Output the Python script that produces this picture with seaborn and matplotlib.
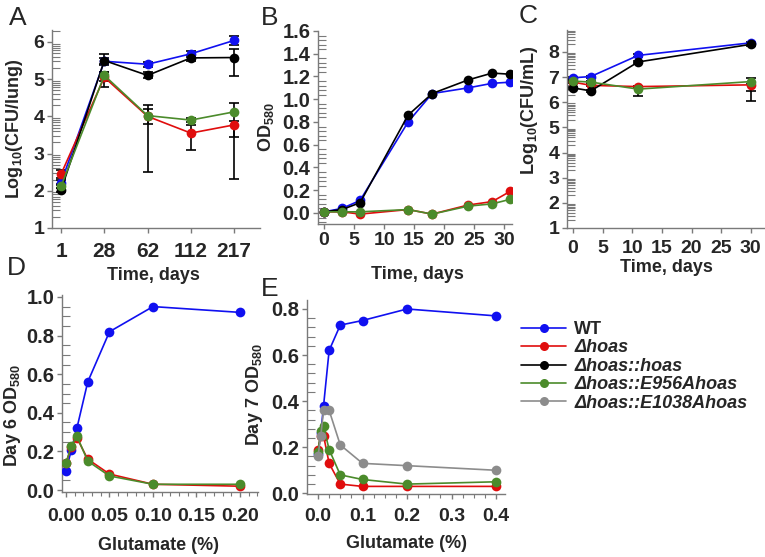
import numpy as np
import pandas as pd
import seaborn as sns
import matplotlib
matplotlib.use("Agg")
from matplotlib import pyplot as plt
from matplotlib.lines import Line2D
from matplotlib.ticker import FixedLocator, MultipleLocator, FormatStrFormatter

strains = ["WT", "hoas", "hoas::hoas", "E956A", "E1038A"]
labels = ["WT", "\u0394hoas", "\u0394hoas::hoas", "\u0394hoas::E956Ahoas", "\u0394hoas::E1038Ahoas"]
colors = {"WT": "#1010f0", "hoas": "#e00d0d", "hoas::hoas": "#000000",
          "E956A": "#4b8b2b", "E1038A": "#8c8c8c"}

# panel A: lung CFU
a_days = ["1", "28", "62", "112", "217"]
a_vals = {
    "WT":         [2.22, 5.48, 5.40, 5.68, 6.04],
    "hoas":       [2.45, 5.05, 4.00, 3.55, 3.77],
    "hoas::hoas": [2.02, 5.50, 5.10, 5.57, 5.58],
    "E956A":      [2.12, 5.10, 4.02, 3.90, 4.12],
}
a_err_lo = {
    "WT":         [0.06, 0.10, 0.07, 0.08, 0.12],
    "hoas":       [0.10, 0.25, 1.49, 0.45, 1.46],
    "hoas::hoas": [0.05, 0.10, 0.08, 0.07, 0.50],
    "E956A":      [0.05, 0.15, 0.23, 0.05, 0.68],
}
a_err_hi = {
    "WT":         [0.06, 0.10, 0.07, 0.08, 0.12],
    "hoas":       [0.12, 0.15, 0.31, 0.22, 0.10],
    "hoas::hoas": [0.05, 0.17, 0.08, 0.07, 0.24],
    "E956A":      [0.05, 0.10, 0.17, 0.05, 0.25],
}

# panel B: OD580 growth
b_days = [0, 3, 6, 14, 18, 24, 28, 31]
b_vals = {
    "WT":         [0.01, 0.04, 0.11, 0.80, 1.05, 1.10, 1.14, 1.15],
    "hoas":       [0.01, 0.01, -0.01, 0.03, -0.01, 0.07, 0.10, 0.19],
    "hoas::hoas": [0.01, 0.03, 0.09, 0.86, 1.05, 1.17, 1.23, 1.22],
    "E956A":      [0.01, 0.01, 0.01, 0.03, -0.01, 0.06, 0.08, 0.12],
}

# panel C: culture CFU
c_days = [0, 3, 11, 30]
c_vals = {
    "WT":         [6.97, 7.02, 7.86, 8.36],
    "hoas":       [6.80, 6.67, 6.62, 6.69],
    "hoas::hoas": [6.57, 6.45, 7.60, 8.30],
    "E956A":      [6.84, 6.80, 6.52, 6.82],
}
c_err_lo = {
    "WT":         [0.04, 0.04, 0.06, 0.05],
    "hoas":       [0.04, 0.04, 0.04, 0.63],
    "hoas::hoas": [0.04, 0.04, 0.05, 0.05],
    "E956A":      [0.04, 0.04, 0.27, 0.36],
}
c_err_hi = {
    "WT":         [0.04, 0.04, 0.06, 0.05],
    "hoas":       [0.04, 0.04, 0.04, 0.05],
    "hoas::hoas": [0.04, 0.04, 0.05, 0.05],
    "E956A":      [0.04, 0.04, 0.05, 0.15],
}

# panel D: day 6 OD vs glutamate
d_glu = [0, 0.00625, 0.0125, 0.025, 0.05, 0.1, 0.2]
d_vals = {
    "WT":    [0.10, 0.21, 0.32, 0.56, 0.82, 0.95, 0.92],
    "hoas":  [0.14, 0.225, 0.27, 0.16, 0.083, 0.03, 0.02],
    "E956A": [0.14, 0.23, 0.28, 0.15, 0.073, 0.03, 0.03],
}

# panel E: day 7 OD vs glutamate
e_glu = [0, 0.00625, 0.0125, 0.025, 0.05, 0.1, 0.2, 0.4]
e_vals = {
    "WT":     [0.17, 0.26, 0.38, 0.62, 0.73, 0.75, 0.80, 0.77],
    "hoas":   [0.19, 0.25, 0.25, 0.13, 0.04, 0.03, 0.03, 0.03],
    "E956A":  [0.18, 0.27, 0.29, 0.19, 0.08, 0.06, 0.04, 0.05],
    "E1038A": [0.16, 0.25, 0.36, 0.36, 0.21, 0.13, 0.12, 0.10],
}


def long_df(x, vals):
    rows = []
    for s in strains:
        if s in vals:
            for xi, yi in zip(x, vals[s]):
                rows.append({"x": xi, "y": yi, "strain": s})
    return pd.DataFrame(rows)


def draw(ax, x, vals, err_lo=None, err_hi=None):
    df = long_df(x, vals)
    order = [s for s in strains if s in vals]
    if err_lo is not None:
        for s in order:
            ax.errorbar(x, vals[s], yerr=[err_lo[s], err_hi[s]], fmt="none",
                        ecolor="black", elinewidth=1.2, capsize=3.5, capthick=1.2, zorder=1)
    sns.lineplot(data=df, x="x", y="y", hue="strain", hue_order=order, palette=colors,
                 marker="o", markersize=7, markeredgewidth=0, linewidth=1.2,
                 estimator=None, legend=False, ax=ax, zorder=3)


def style(ax, xlabel, ylabel, xlab_pos, ylab_pos, xsize, ysize, xpad):
    ax.set_xlabel(xlabel, fontsize=13, weight="bold")
    ax.set_ylabel(ylabel, fontsize=13, weight="bold")
    ax.xaxis.label.set_va("center")
    ax.yaxis.label.set_va("center")
    ax.xaxis.set_label_coords(*xlab_pos)
    ax.yaxis.set_label_coords(*ylab_pos)
    for sp in ["top", "right"]:
        ax.spines[sp].set_visible(False)
    for sp in ["left", "bottom"]:
        ax.spines[sp].set_color("#7a7a7a")
        ax.spines[sp].set_linewidth(1.0)
    ax.tick_params(which="major", direction="out", length=3.5, width=1.0, color="#7a7a7a")
    ax.tick_params(axis="x", which="major", labelsize=xsize, pad=xpad)
    ax.tick_params(axis="y", which="major", labelsize=ysize, pad=2)
    ax.tick_params(axis="y", which="minor", direction="in", length=6, width=0.8,
                   color="#7a7a7a")
    ax.tick_params(axis="x", which="minor", direction="out", length=3, width=0.8,
                   color="#7a7a7a")
    for t in ax.get_xticklabels() + ax.get_yticklabels():
        t.set_fontweight("bold")


def log_minor(lo, hi):
    return [n + np.log10(k) for n in range(lo, hi) for k in range(2, 10)]


sns.set_style("ticks")
plt.rcParams["font.family"] = ["Liberation Sans", "DejaVu Sans"]
plt.rcParams["font.weight"] = "bold"
plt.rcParams["mathtext.fontset"] = "custom"
plt.rcParams["mathtext.rm"] = "Liberation Sans:bold"
plt.rcParams["mathtext.bf"] = "Liberation Sans:bold"
plt.rcParams["mathtext.default"] = "bf"

W, H = 765, 557
fig = plt.figure(figsize=(W / 100, H / 100), dpi=100)


def add_axes(left, right, top, bottom):
    return fig.add_axes([left / W, 1 - bottom / H, (right - left) / W, (bottom - top) / H])


# A
axA = add_axes(52, 260, 30, 228)
draw(axA, np.arange(len(a_days)), a_vals, a_err_lo, a_err_hi)
axA.set_xticks(np.arange(len(a_days)))
axA.set_xticklabels(a_days)
axA.set_xlim(-0.21, 4.6)
axA.set_ylim(1, 6.32)
axA.set_yticks(range(1, 7))
axA.yaxis.set_minor_locator(FixedLocator(log_minor(1, 7)))
style(axA, "Time, days", r"Log$_{10}$(CFU/lung)", (0.486, -0.24), (-0.18, 0.5), 15, 14, 6.5)

# B
axB = add_axes(318, 512, 31, 224)
draw(axB, b_days, b_vals)
axB.set_xlim(-1, 31.3)
axB.set_ylim(-0.097, 1.6)
axB.set_xticks(range(0, 31, 5))
axB.set_yticks(np.arange(0, 1.61, 0.2))
axB.yaxis.set_major_formatter(FormatStrFormatter("%.1f"))
axB.yaxis.set_minor_locator(MultipleLocator(0.04))
style(axB, "Time, days", r"OD$_{580}$", (0.515, -0.26), (-0.27, 0.5), 14, 14.5, 2)

# C
axC = add_axes(567, 765, 30, 228)
draw(axC, c_days, c_vals, c_err_lo, c_err_hi)
axC.set_xlim(-1.01, 32.4)
axC.set_ylim(1, 8.87)
axC.set_xticks(range(0, 31, 5))
axC.set_yticks(range(1, 9))
axC.yaxis.set_minor_locator(FixedLocator(log_minor(1, 9)))
style(axC, "Time, days", r"Log$_{10}$(CFU/mL)", (0.5, -0.2), (-0.187, 0.596), 14, 14, 4.8)

# D
axD = add_axes(62, 258, 295, 492)
draw(axD, d_glu, d_vals)
axD.set_xlim(-0.0046, 0.2207)
axD.set_ylim(-0.01, 1.01)
axD.set_xticks(np.arange(0, 0.201, 0.05))
axD.xaxis.set_major_formatter(FormatStrFormatter("%.2f"))
axD.xaxis.set_minor_locator(MultipleLocator(0.01))
axD.set_yticks(np.arange(0, 1.01, 0.2))
axD.yaxis.set_major_formatter(FormatStrFormatter("%.1f"))
axD.yaxis.set_minor_locator(MultipleLocator(0.05))
style(axD, "Glutamate (%)", r"Day 6 OD$_{580}$", (0.49, -0.27), (-0.255, 0.39), 14, 14.5, 8.2)

# E
axE = add_axes(307, 505, 300, 494)
draw(axE, e_glu, e_vals)
axE.set_xlim(-0.0247, 0.42)
axE.set_ylim(-0.003, 0.839)
axE.set_xticks(np.arange(0, 0.41, 0.1))
axE.xaxis.set_major_formatter(FormatStrFormatter("%.1f"))
axE.xaxis.set_minor_locator(MultipleLocator(0.025))
axE.set_yticks(np.arange(0, 0.81, 0.2))
axE.yaxis.set_major_formatter(FormatStrFormatter("%.1f"))
axE.yaxis.set_minor_locator(MultipleLocator(0.04))
style(axE, "Glutamate (%)", r"Day 7 OD$_{580}$", (0.505, -0.253), (-0.263, 0.51), 14, 14.5, 6.8)

# panel letters
for letter, (px, py) in {"A": (9, 6), "B": (261, 6), "C": (519, 4),
                         "D": (7, 256), "E": (261, 277)}.items():
    fig.text(px / W, 1 - py / H, letter, fontsize=19, fontweight="normal",
             ha="left", va="top")

# legend
handles = [Line2D([], [], color=colors[s], marker="o", markersize=6.5,
                  markeredgewidth=0, linewidth=1.2) for s in strains]
leg = fig.legend(handles, labels, loc="upper left", bbox_to_anchor=(521 / W, 1 - 321 / H),
                 frameon=False, borderpad=0, borderaxespad=0, handlelength=2.5,
                 handletextpad=0.45, labelspacing=0.08, fontsize=13)
for t in leg.get_texts()[1:]:
    t.set_fontstyle("italic")

fig.savefig("out.png", dpi=100)
